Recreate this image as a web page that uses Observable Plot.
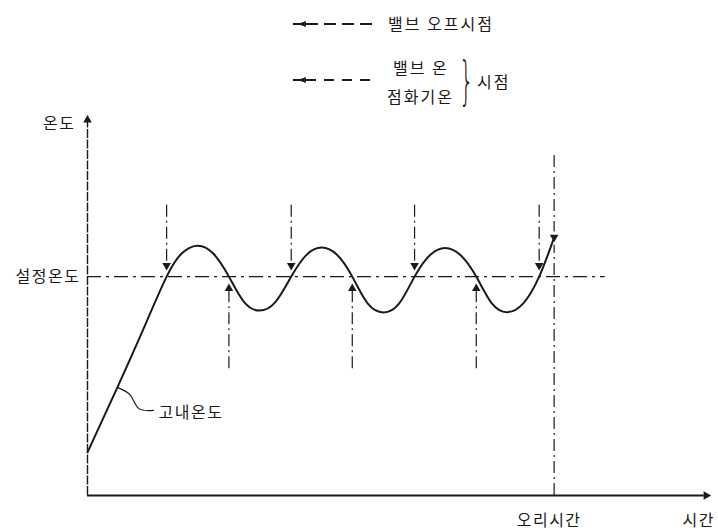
<!DOCTYPE html>
<html><head><meta charset="utf-8">
<script src="https://cdn.jsdelivr.net/npm/d3@7"></script>
<script src="https://cdn.jsdelivr.net/npm/@observablehq/plot@0.6"></script>
<style>
body{margin:0;background:#fff;font-family:"Noto Sans CJK KR","Noto Sans",sans-serif;color:#1a1a1a;}
#wrap{width:718px;}
#legend{position:relative;width:718px;height:105px;}
.t{position:absolute;font-size:16px;line-height:1;white-space:nowrap;letter-spacing:2px;}
.seg{position:absolute;height:1.5px;}
.tri{position:absolute;width:0;height:0;border-top:3.5px solid transparent;border-bottom:3.5px solid transparent;border-right:8px solid #1a1a1a;}
.brace{position:absolute;font-family:"DejaVu Sans";font-size:52px;line-height:1;transform:scaleX(0.45);transform-origin:left top;font-weight:200;}
#chart text{letter-spacing:1.5px;}
</style></head><body>
<div id="wrap"><div id="legend"></div><div id="chart"></div></div>
<script>
// ---- data ----
const curveTime = [0, 4.8, 9.0, 12.7, 15.15, 17.6, 20.15, 22.7, 25.15, 27.6, 30.15, 32.7,
  35.15, 37.6, 40.05, 42.5, 45.0, 47.5, 50.0, 52.5,
  54.95, 57.4, 59.9, 62.4, 64.9, 67.4, 69.95, 72.5, 74.9];
const curveTemp = [11.3, 28.3, 43.7, 57.3, 63.4, 65.4, 63.4, 57.3, 50.6, 48.4, 50.6, 57.3,
  63.0, 64.9, 63.0, 57.3, 50.2, 47.9, 50.2, 57.3,
  62.9, 64.8, 62.9, 57.3, 50.3, 48.0, 50.3, 57.3, 67.5];
const setTemp = 57.3;
const offTimes = [12.7, 32.7, 52.5, 72.5];   // valve off (down arrows)
const onTimes = [22.7, 42.5, 62.4];          // valve on / ignition (up arrows)
const cookTime = 74.9;
const leaderTime = [4.8, 6.9, 8.2, 10.6];
const leaderTemp = [28.3, 26.2, 22.8, 22.3];
const yLabels = ["온도", "설정온도"];
const xLabels = ["오리시간", "시간"];
const curveLabel = "고내온도";
const legendOff = "밸브 오프시점";
const legendOn = ["밸브 온", "점화기온"];
const legendOnSuffix = "시점";

// ---- legend (HTML above the SVG) ----
const lg = document.getElementById("legend");
function add(html){ lg.insertAdjacentHTML("beforeend", html); }
function arrowLine(y, x0, x1, pattern){
  add(`<div class="seg" style="left:${x0}px;top:${y-0.75}px;width:8px;background:#1a1a1a"></div>`);
  add(`<div class="tri" style="left:${x0+5}px;top:${y-3.5}px"></div>`);
  add(`<div class="seg" style="left:${x0+13}px;top:${y-0.75}px;width:${x1-x0-13}px;background:repeating-linear-gradient(to right,#1a1a1a 0 ${pattern[0]}px,transparent ${pattern[0]}px ${pattern[0]+pattern[1]}px)"></div>`);
}
arrowLine(24, 293, 373, [12, 6]);
add(`<div class="t" style="left:388px;top:15px">${legendOff}</div>`);
arrowLine(80, 293, 375, [10, 8]);
add(`<div class="t" style="left:393px;top:59px">${legendOn[0]}</div>`);
add(`<div class="t" style="left:387px;top:88px">${legendOn[1]}</div>`);
add(`<div class="brace" style="left:459px;top:54px">}</div>`);
add(`<div class="t" style="left:477px;top:73px">${legendOnSuffix}</div>`);

// ---- chart ----
const curve = curveTime.map((t, i) => ({t, v: curveTemp[i]}));
const leader = leaderTime.map((t, i) => ({t, v: leaderTemp[i]}));
const ink = "#1a1a1a";
const dashDot = "12,4,2,4";

const chart = Plot.plot({
  width: 718, height: 427,
  marginLeft: 87, marginRight: 8, marginTop: 8, marginBottom: 37,
  x: {domain: [0, 100], axis: null},
  y: {domain: [0, 100], axis: null},
  style: {fontFamily: '"Noto Sans CJK KR", sans-serif', fontSize: "16px", color: ink, background: "transparent", overflow: "visible"},
  marks: [
    // axes
    Plot.ruleX([0], {y1: 0, y2: 98, stroke: ink, strokeWidth: 1.4, strokeDasharray: "9,1.5"}),
    Plot.ruleY([0], {x1: 0, x2: 99, stroke: ink, strokeWidth: 1.8}),
    Plot.dot([0], {x: 0, y: 98.3, symbol: "triangle", r: 3.2, fill: ink, stroke: "none"}),
    Plot.dot([0], {x: 99.3, y: 0, symbol: "triangle", r: 3.2, rotate: 90, fill: ink, stroke: "none"}),
    // set temperature line
    Plot.ruleY([setTemp], {x1: 0, x2: 83.1, stroke: ink, strokeWidth: 1.3, strokeDasharray: "14,5,3,5"}),
    // valve off lines + down arrowheads
    Plot.ruleX(offTimes, {y1: 76, y2: 61, stroke: ink, strokeWidth: 1.2, strokeDasharray: dashDot}),
    Plot.dot(offTimes, {x: d => d, y: 60.2, symbol: "triangle", r: 3.2, rotate: 180, fill: ink, stroke: "none"}),
    // valve on lines + up arrowheads
    Plot.ruleX(onTimes, {y1: 33.2, y2: 53.5, stroke: ink, strokeWidth: 1.2, strokeDasharray: dashDot}),
    Plot.dot(onTimes, {x: d => d, y: 54.2, symbol: "triangle", r: 3.2, fill: ink, stroke: "none"}),
    // cooking time line
    Plot.ruleX([cookTime], {y1: 89, y2: 69, stroke: ink, strokeWidth: 1.2, strokeDasharray: dashDot}),
    Plot.dot([cookTime], {x: d => d, y: 67.6, symbol: "triangle", r: 3.2, rotate: 180, fill: ink, stroke: "none"}),
    Plot.ruleX([cookTime], {y1: 0, y2: 65.5, stroke: ink, strokeWidth: 1.2, strokeDasharray: dashDot}),
    // temperature curve
    Plot.line(curve, {x: "t", y: "v", curve: "natural", stroke: ink, strokeWidth: 2}),
    // leader
    Plot.line(leader, {x: "t", y: "v", curve: "natural", stroke: ink, strokeWidth: 1.2}),
    // labels
    Plot.text([curveLabel], {x: 11.4, y: 21.7, text: d => d, textAnchor: "start", fontSize: 16, fill: ink}),
    Plot.text([yLabels[0]], {x: 0, y: 97.4, text: d => d, textAnchor: "end", dx: -12, fontSize: 16, fill: ink}),
    Plot.text([yLabels[1]], {x: 0, y: setTemp, text: d => d, textAnchor: "end", dx: -7, fontSize: 16, fill: ink}),
    Plot.text([xLabels[0]], {x: cookTime, y: 0, text: d => d, dx: -5, dy: 25, fontSize: 16, fill: ink}),
    Plot.text([xLabels[1]], {x: 98.1, y: 0, text: d => d, dy: 25, fontSize: 16, fill: ink})
  ]
});
document.getElementById("chart").append(chart);
</script>
</body></html>
